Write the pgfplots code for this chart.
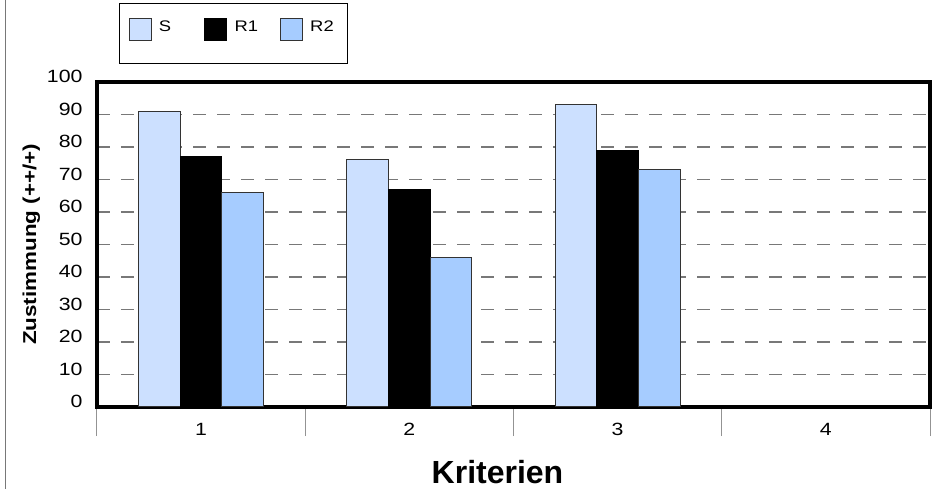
\documentclass[border=0pt]{standalone}
\usepackage{fontspec}
\setmainfont{Liberation Sans}
\newfontfamily\wide[FakeStretch=1.2]{Liberation Sans}
\usepackage{pgfplots}
\pgfplotsset{compat=1.18}

\definecolor{colS}{RGB}{204,224,255}
\definecolor{colRtwo}{RGB}{166,204,255}
\definecolor{gridgray}{RGB}{120,120,120}

\begin{document}
\begin{tikzpicture}
\useasboundingbox (-72.75pt,-61.5pt) rectangle (634.5pt,305.25pt);
\begin{axis}[
    scale only axis,
    width=624.75pt,
    height=243.75pt,
    ybar=0pt,
    bar width=0.2,
    xmin=0.5, xmax=4.5,
    ymin=0, ymax=100,
    xtick={1,2,3,4},
    minor xtick={0.5,1.5,2.5,3.5,4.5},
    ytick={0,10,...,100},
    /pgf/number format/assume math mode=true,
    xtick pos=bottom,
    ytick pos=left,
    tick align=outside,
    major tick length=0pt,
    minor tick length=21.75pt,
    minor tick style={gridgray!80, line width=0.75pt},
    ymajorgrids,
    major grid style={gridgray, line width=0.9pt, dash pattern=on 9.5pt off 8.5pt},
    axis line style={line width=2.5pt},
    xticklabel style={font=\wide\fontsize{13.3}{16}\selectfont, anchor=center, yshift=-17pt},
    yticklabel style={font=\wide\fontsize{13.3}{16}\selectfont, anchor=east, inner sep=0pt, xshift=-10.7pt, yshift=4pt},
    ylabel={Zustimmung (++/+)},
    ylabel style={font=\wide\bfseries\fontsize{14}{17}\selectfont, at={(axis description cs:-0.0732,0.5)}, anchor=base},
    xlabel={Kriterien},
    xlabel style={font=\bfseries\fontsize{24}{28}\selectfont, at={(axis description cs:0.4808,-0.2348)}, anchor=base},
    legend columns=3,
    legend style={at={(axis description cs:0.03758,1.1991)}, anchor=north west,
        draw=none, fill=none, inner sep=0pt, column sep=0pt,
        font=\wide\fontsize{11.5}{13}\selectfont, nodes={inner sep=0pt}},
    legend image code/.code={\draw[#1, line width=0.75pt] (0pt,-7.5pt) rectangle (16.5pt,9pt);},
]
\addplot[fill=colS, draw=black!80, line width=0.75pt] coordinates {(1,91) (2,76) (3,93)};
\addlegendentry{\makebox[39.5pt][l]{\hspace{5.5pt}\raisebox{3.75pt}{S}}}
\addplot[fill=black, draw=black, line width=0.75pt] coordinates {(1,77) (2,67) (3,79)};
\addlegendentry{\makebox[39.5pt][l]{\hspace{5.5pt}\raisebox{3.75pt}{R1}}}
\addplot[fill=colRtwo, draw=black!80, line width=0.75pt] coordinates {(1,66) (2,46) (3,73)};
\addlegendentry{\makebox[39.5pt][l]{\hspace{5.5pt}\raisebox{3.75pt}{R2}}}
\end{axis}
% legend frame and left edge line
\draw[line width=0.75pt] (17.25pt,302.25pt) rectangle (187.5pt,257.8pt);
\draw[gridgray, line width=0.75pt] (-68.25pt,-61.5pt) -- (-68.25pt,305.25pt);
\end{tikzpicture}
\end{document}
